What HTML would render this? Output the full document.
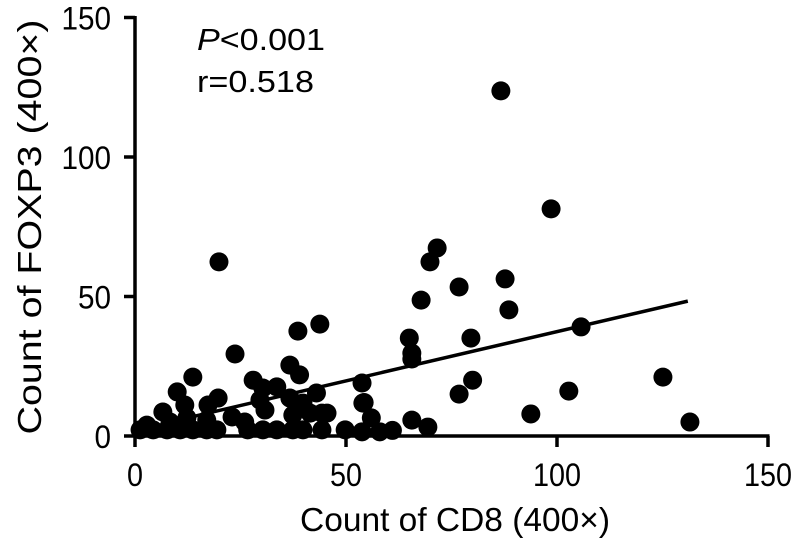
<!DOCTYPE html>
<html><head><meta charset="utf-8"><style>
body{margin:0;background:#fff;}
svg{display:block;font-family:"Liberation Sans",Arial,sans-serif;}
</style></head><body>
<svg id="chart" width="792" height="544" viewBox="0 0 792 544">
<g id="axes"></g>
<g id="marks"></g>
<text x="197" y="50" font-size="31" textLength="128" lengthAdjust="spacingAndGlyphs"><tspan font-style="italic">P</tspan>&lt;0.001</text>
<text x="197" y="92" font-size="31" textLength="117" lengthAdjust="spacingAndGlyphs">r=0.518</text>
<text x="455" y="531" font-size="33" text-anchor="middle" textLength="310" lengthAdjust="spacingAndGlyphs">Count of CD8 (400×)</text>
<text transform="translate(41,227) rotate(-90)" font-size="33" text-anchor="middle" textLength="415" lengthAdjust="spacingAndGlyphs">Count of FOXP3 (400×)</text>
</svg>
<script>
const xTicks=[0,50,100,150];
const yTicks=[0,50,100,150];
const xs=[86.7,98.6,19.9,71.6,69.9,67.8,76.8,87.7,88.6,79.6,105.7,65,65.6,65.6,43.8,38.6,80,76.8,93.8,102.8,125.1,131.5,65.6,69.4,53.8,54.3,56,53.8,58,61,23.7,13.7,10,6.6,2.8,11.8,17.3,19.7,28,30.3,33.6,36.7,39,43,44.3,36.7,29.6,30.8,37.4,39.8,41.5,45.5,54,23,26,1.2,4.3,7.6,10.7,13.7,17,19.4,26.7,30.3,33.6,37.4,39.8,44.3,49.8,12.3,17,8.3];
const ys=[123.7,81.4,62.4,67.4,62.4,48.7,53.4,56.3,45.2,35.1,39.1,35.1,29.7,27.6,40.1,37.6,20,15,7.9,16.1,21.1,5,5.7,3.2,19,12,6.5,1.5,1.5,2,29.4,21.1,15.8,8.6,3.9,11.1,11.1,13.6,20,17.2,17.6,25.4,21.9,15.4,8.2,13.6,12.9,9.3,7.5,11.8,8.2,8.2,11.8,6.8,5,2.2,2.2,2.2,2.2,2.2,2.2,2.2,2.2,2.2,2.2,2.2,2.2,2.2,2.2,6.5,5.7,5];
const fitX=[13,131];
const slope=0.353, intercept=2.1;
const X=v=>135+v*4.22, Y=v=>436-v*2.79;
const NS="http://www.w3.org/2000/svg";
const ax=document.getElementById('axes'), mk=document.getElementById('marks');
function mkEl(t,a,p){const e=document.createElementNS(NS,t);for(const k in a)e.setAttribute(k,a[k]);p.appendChild(e);return e;}
let e=mkEl('line',{x1:X(0),y1:Y(0),x2:X(150)+1.5,y2:Y(0),stroke:'#000','stroke-width':3.5},ax);


e=mkEl('line',{x1:X(0),y1:Y(0)+1.5,x2:X(0),y2:Y(150)-1.5,stroke:'#000','stroke-width':3.5},ax);


xTicks.forEach(t=>{
 let l=mkEl('line',{x1:X(t),y1:Y(0),x2:X(t),y2:Y(0)+11,stroke:'#000','stroke-width':3.5},ax);
 
 
 let s=mkEl('text',{x:X(t),y:486,'font-size':32,'text-anchor':'middle',textLength:String(t).length*16,lengthAdjust:'spacingAndGlyphs'},ax);s.textContent=t;
 
 
});
yTicks.forEach(t=>{
 let l=mkEl('line',{x1:X(0)-11,y1:Y(t),x2:X(0),y2:Y(t),stroke:'#000','stroke-width':3.5},ax);
 
 
 let s=mkEl('text',{x:111,y:Y(t)+12,'font-size':32,'text-anchor':'end',textLength:String(t).length*16.5,lengthAdjust:'spacingAndGlyphs'},ax);s.textContent=t;
 
 
});
xs.forEach((v,i)=>{
 let c=mkEl('circle',{cx:X(v),cy:Y(ys[i]),r:9.5,fill:'#000'},mk);
 
 
});
e=mkEl('line',{x1:X(fitX[0]),y1:Y(intercept+slope*fitX[0]),x2:X(fitX[1]),y2:Y(intercept+slope*fitX[1]),stroke:'#000','stroke-width':3.5},mk);


</script>
</body></html>
